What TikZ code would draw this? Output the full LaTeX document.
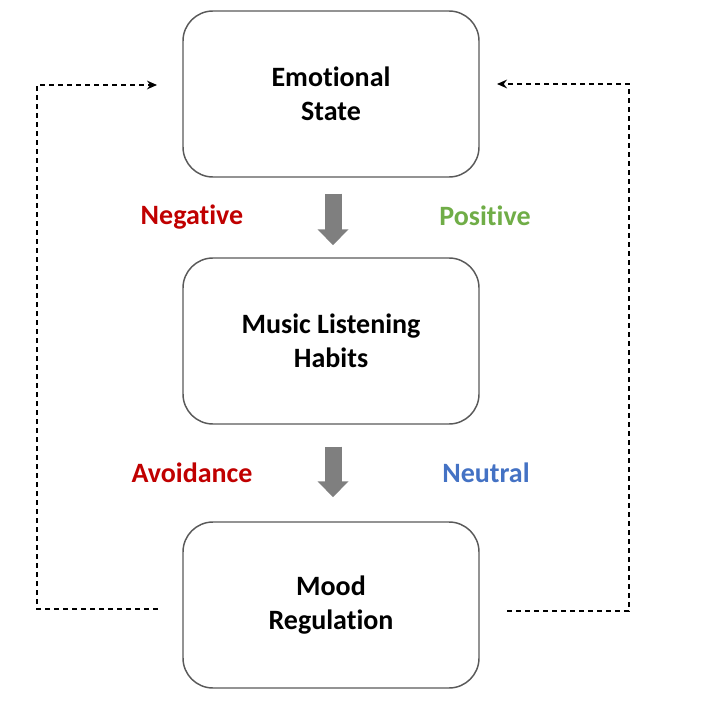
\documentclass[tikz,border=0pt]{standalone}
\usepackage{fontspec}
\setmainfont[Ligatures=NoCommon]{Carlito}
\usetikzlibrary{arrows.meta}
\definecolor{boxline}{HTML}{595959}
\definecolor{flowgray}{HTML}{7F7F7F}
\definecolor{negred}{HTML}{C00000}
\definecolor{posgreen}{HTML}{70AD47}
\definecolor{neublue}{HTML}{4472C4}

\begin{document}
\begin{tikzpicture}[x=0.75pt,y=-0.75pt,font=\fontsize{21}{25.5}\selectfont\bfseries,
  stagebox/.style={draw=boxline,line width=1.1pt,rounded corners=22.5pt,
    minimum width=222pt,minimum height=124.5pt,align=center},
  flow/.style={flowgray,line width=12.75pt,-{Triangle[width=22.5pt,length=12pt]}},
  loop/.style={line width=1.4pt,dash pattern=on 3.75pt off 3pt,-{Stealth[length=7.5pt,width=6.5pt]}}]
\useasboundingbox (0,0) rectangle (707,716);
\node[stagebox] (emo) at (331,94) {Emotional\\State};
\node[stagebox] (habit) at (331,341) {Music Listening\\Habits};
\node[stagebox] (reg) at (331,605) {Mood\\Regulation};
\draw[flow,shorten <=12pt,shorten >=9pt] ([xshift=1.5pt]emo.south) -- ([xshift=1.5pt]habit.north);
\draw[flow,shorten <=16.5pt,shorten >=18pt] ([xshift=1.5pt]habit.south) -- ([xshift=1.5pt]reg.north);
\node[negred] (neg) at (192,217) {Negative};
\node[posgreen] (pos) at (485,216) {Positive};
\node[negred] (avoid) at (192,473) {Avoidance};
\node[neublue] (neu) at (486,473) {Neutral};
% feedback loops
\coordinate (lout) at (158,609);
\coordinate (lin) at (157,85);
\coordinate (rout) at (507,611);
\coordinate (rin) at (497,84);
\draw[loop] (lout) -- ++(-121,0) |- (lin);
\draw[loop] (rout) -- ++(122,0) |- (rin);
\end{tikzpicture}
\end{document}
